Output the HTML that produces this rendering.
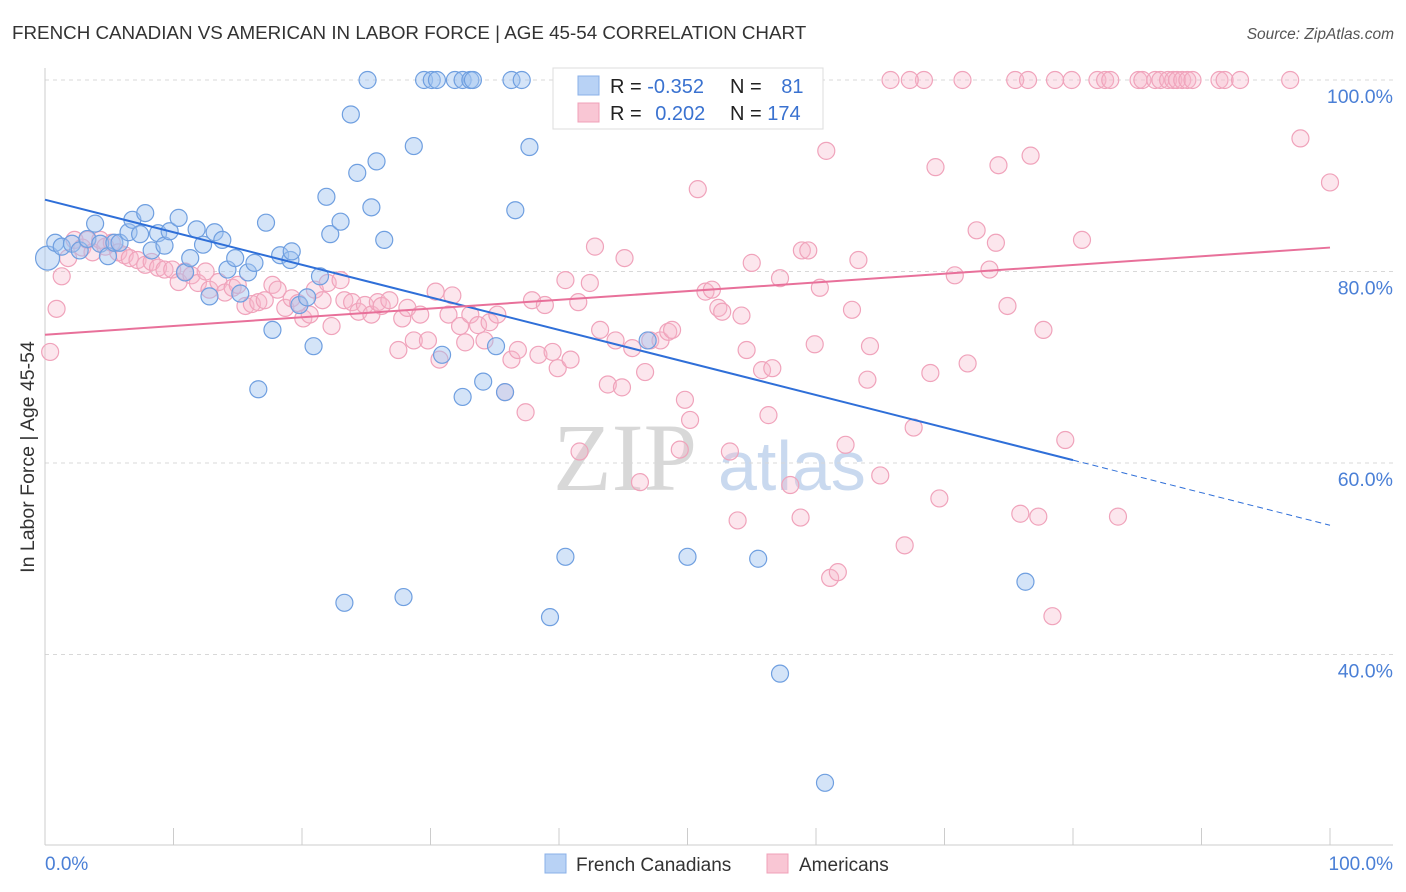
<!DOCTYPE html>
<html><head><meta charset="utf-8">
<style>
body{margin:0;background:#fff;font-family:"Liberation Sans",sans-serif;}
#wrap{position:relative;width:1406px;height:892px;overflow:hidden;}
</style></head>
<body><div id="wrap">
<svg id="svg" width="1406" height="892" xmlns="http://www.w3.org/2000/svg">
<text x="12" y="39" font-size="18.8" fill="#333">FRENCH CANADIAN VS AMERICAN IN LABOR FORCE | AGE 45-54 CORRELATION CHART</text>
<text x="1394" y="39" font-size="15.5" fill="#555" font-style="italic" text-anchor="end">Source: ZipAtlas.com</text>
<text transform="translate(34,457) rotate(-90)" font-size="19.5" fill="#333" text-anchor="middle">In Labor Force | Age 45-54</text>
<g><text x="553" y="490" font-size="96" font-family="Liberation Serif,serif" fill="#d8d8d8">ZIP</text><text x="718" y="490" font-size="70" fill="#c9d9ef">atlas</text></g>
<g id="grid"></g><g id="axes"></g><g id="pts"></g><g id="trend"></g>
<g>
<rect x="553" y="68" width="270" height="61" fill="#fff" stroke="#ddd"/>
<rect x="578" y="76" width="21" height="19" fill="#b8d2f5" stroke="#8ab0e8"/>
<rect x="578" y="103" width="21" height="19" fill="#f9c6d4" stroke="#f0a0b8"/>
<text x="610" y="93" font-size="20" fill="#222">R = <tspan fill="#3a72d0">-0.352</tspan></text>
<text x="730" y="93" font-size="20" fill="#222">N = <tspan fill="#3a72d0" dx="14">81</tspan></text>
<text x="610" y="120" font-size="20" fill="#222">R = <tspan fill="#3a72d0" dx="8">0.202</tspan></text>
<text x="730" y="120" font-size="20" fill="#222">N = <tspan fill="#3a72d0">174</tspan></text>
</g>
<g>
<rect x="545" y="854" width="21" height="19" fill="#b8d2f5" stroke="#8ab0e8"/>
<text x="576" y="871" font-size="19" fill="#333">French Canadians</text>
<rect x="767" y="854" width="21" height="19" fill="#f9c6d4" stroke="#f0a0b8"/>
<text x="799" y="871" font-size="19" fill="#333">Americans</text>
</g>
</svg>
<script>
const yTicks=[40,60,80,100];
const xTickLabels=["0.0%","100.0%"];
const blueX=[0.2,0.8,1.3,2.1,2.7,3.3,3.9,4.3,4.9,5.4,5.8,6.5,6.8,7.4,7.8,8.3,8.8,9.3,9.7,10.4,10.9,11.3,11.8,12.3,12.8,13.2,13.8,14.2,14.8,15.2,15.8,16.3,17.2,17.7,18.3,19.1,19.2,19.8,20.4,20.9,21.4,21.9,22.2,23.0,23.3,23.8,24.3,25.1,25.4,25.8,26.4,27.9,28.7,29.5,30.1,30.5,31.9,32.5,32.5,33.1,33.3,34.1,35.1,35.8,36.3,36.6,37.1,37.7,39.3,40.5,46.9,50.0,55.5,57.2,60.7,76.3,30.9,16.6];
const blueY=[81.4,83.0,82.6,82.9,82.2,83.4,85.0,82.9,81.6,83.0,83.0,84.1,85.4,83.9,86.1,82.2,84.0,82.7,84.2,85.6,79.9,81.4,84.4,82.8,77.4,84.1,83.3,80.2,81.4,77.7,79.9,80.9,85.1,73.9,81.7,81.2,82.1,76.5,77.3,72.2,79.5,87.8,83.9,85.2,45.4,96.4,90.3,100,86.7,91.5,83.3,46.0,93.1,100,100,100,100,100,66.9,100,100,68.5,72.2,67.4,100,86.4,100,93.0,43.9,50.2,72.8,50.2,50.0,38.0,26.6,47.6,71.3,67.7];
const pinkX=[0.4,0.9,1.3,1.8,2.3,2.9,3.3,3.7,4.3,4.7,5.2,5.7,6.2,6.6,7.2,7.8,8.3,8.8,9.3,9.9,10.4,10.9,11.4,11.9,12.5,12.8,13.5,14.0,14.6,15.0,15.6,16.1,16.6,17.1,17.7,18.1,18.7,19.2,19.7,20.1,20.6,21.0,21.6,22.0,22.3,23.0,23.3,23.9,24.4,24.9,25.4,25.9,26.2,26.8,27.5,27.8,28.2,28.7,29.2,29.8,30.4,30.7,31.4,31.7,32.3,32.7,33.1,33.7,34.2,34.6,35.2,35.8,36.3,36.8,37.4,37.9,38.4,38.9,39.5,39.9,40.5,40.9,41.5,41.6,42.4,42.8,43.2,43.8,44.4,44.9,45.1,45.7,46.3,46.7,47.1,47.9,48.5,48.8,49.4,49.8,50.2,50.8,51.4,51.9,52.4,52.7,53.3,53.9,54.2,54.6,55.0,55.8,56.3,56.6,57.2,58.0,58.8,58.9,59.4,59.9,60.3,60.8,61.1,61.7,62.3,62.8,63.3,64.0,64.2,65.0,65.8,66.9,67.6,68.4,68.9,69.3,69.6,70.8,71.4,71.8,72.5,73.5,74.0,74.2,74.9,75.5,75.9,76.5,76.7,77.3,77.7,78.4,78.6,79.4,79.9,80.7,81.9,82.5,82.9,83.5,85.1,85.4,86.4,86.8,87.4,87.8,88.1,88.5,88.9,89.3,91.4,91.8,93.0,96.9,97.7,100,67.3];
const pinkY=[71.6,76.1,79.5,81.4,83.3,82.5,83.3,82.0,83.3,82.6,83.0,82.0,81.7,81.4,81.2,80.7,81.0,80.4,80.2,80.2,78.9,80.0,79.6,78.8,80.0,78.1,78.9,77.8,78.3,78.6,76.4,76.6,76.8,77.0,78.6,78.1,76.2,77.2,76.7,75.1,75.5,78.1,77.0,78.8,74.3,79.1,77.0,76.8,75.8,76.5,75.5,76.8,76.4,77.0,71.8,75.1,76.2,72.8,75.5,72.8,77.9,70.8,75.5,77.5,74.3,72.6,75.5,74.4,72.8,74.7,75.5,67.4,70.8,71.8,65.3,77.0,71.3,76.5,71.6,69.9,79.1,70.8,76.8,61.2,78.8,82.6,73.9,68.2,72.8,67.9,81.4,72.0,58.0,69.5,72.8,72.8,73.7,73.9,61.4,66.6,64.5,88.6,77.9,78.1,76.2,75.8,61.2,54.0,75.4,71.8,80.9,69.7,65.0,69.9,79.3,57.7,54.3,82.2,82.2,72.4,78.3,92.6,48.0,48.6,61.9,76.0,81.2,68.7,72.2,58.7,100,51.4,63.7,100,69.4,90.9,56.3,79.6,100,70.4,84.3,80.2,83.0,91.1,76.4,100,54.7,100,92.1,54.4,73.9,44.0,100,62.4,100,83.3,100,100,100,54.4,100,100,100,100,100,100,100,100,100,100,100,100,100,100,93.9,89.3,100];
const blueTrend=[87.5,60.3,53.5];
const pinkTrend=[73.4,82.5];
const NS="http://www.w3.org/2000/svg";
const X=v=>45+v*12.85, Y=v=>80+(100-v)*9.575;
function mk(t,a,p){const e=document.createElementNS(NS,t);for(const k in a)e.setAttribute(k,a[k]);p.appendChild(e);return e;}
const grid=document.getElementById('grid');
yTicks.forEach(t=>{
 const l=mk('line',{x1:45,x2:1393,y1:Y(t),y2:Y(t),stroke:'#d8d8d8','stroke-dasharray':'4,4'},grid);
 
 
 const tx=mk('text',{x:1393,y:Y(t)+23,'font-size':19.5,fill:'#4a7fd6','text-anchor':'end'},grid);
 tx.textContent=t.toFixed(1)+'%';
 
 
});
const ax=document.getElementById('axes');
let a1=mk('line',{x1:45,x2:45,y1:68,y2:845,stroke:'#ccc'},ax);


let a2=mk('line',{x1:45,x2:1393,y1:845,y2:845,stroke:'#ccc'},ax);


for(let i=1;i<=10;i++){const tk=mk('line',{x1:X(i*10),x2:X(i*10),y1:828,y2:845,stroke:'#ccc'},ax);
 
 }
const xl0=mk('text',{x:45,y:870,'font-size':19,fill:'#4a7fd6'},ax);xl0.textContent=xTickLabels[0];


const xl1=mk('text',{x:1393,y:870,'font-size':19,fill:'#4a7fd6','text-anchor':'end'},ax);xl1.textContent=xTickLabels[1];


const pts=document.getElementById('pts');
pinkX.forEach((x,i)=>{const c=mk('circle',{cx:X(x),cy:Y(pinkY[i]),r:8.5,fill:'rgba(246,182,202,0.35)',stroke:'#f0a3bb','stroke-width':1.2},pts);
 
 });
blueX.forEach((x,i)=>{const c=mk('circle',{cx:X(x),cy:Y(blueY[i]),r:i==0?12:8.5,fill:'rgba(160,195,240,0.45)',stroke:'#6f9fe0','stroke-width':1.2},pts);
 
 });
const tr=document.getElementById('trend');
let t1=mk('line',{x1:X(0),y1:Y(blueTrend[0]),x2:X(80),y2:Y(blueTrend[1]),stroke:'#2f6fd8','stroke-width':2},tr);


let t2=mk('line',{x1:X(80),y1:Y(blueTrend[1]),x2:X(100),y2:Y(blueTrend[2]),stroke:'#2f6fd8','stroke-width':1,'stroke-dasharray':'6,4'},tr);


let t3=mk('line',{x1:X(0),y1:Y(pinkTrend[0]),x2:X(100),y2:Y(pinkTrend[1]),stroke:'#e8709a','stroke-width':2},tr);


</script>
</div></body></html>
